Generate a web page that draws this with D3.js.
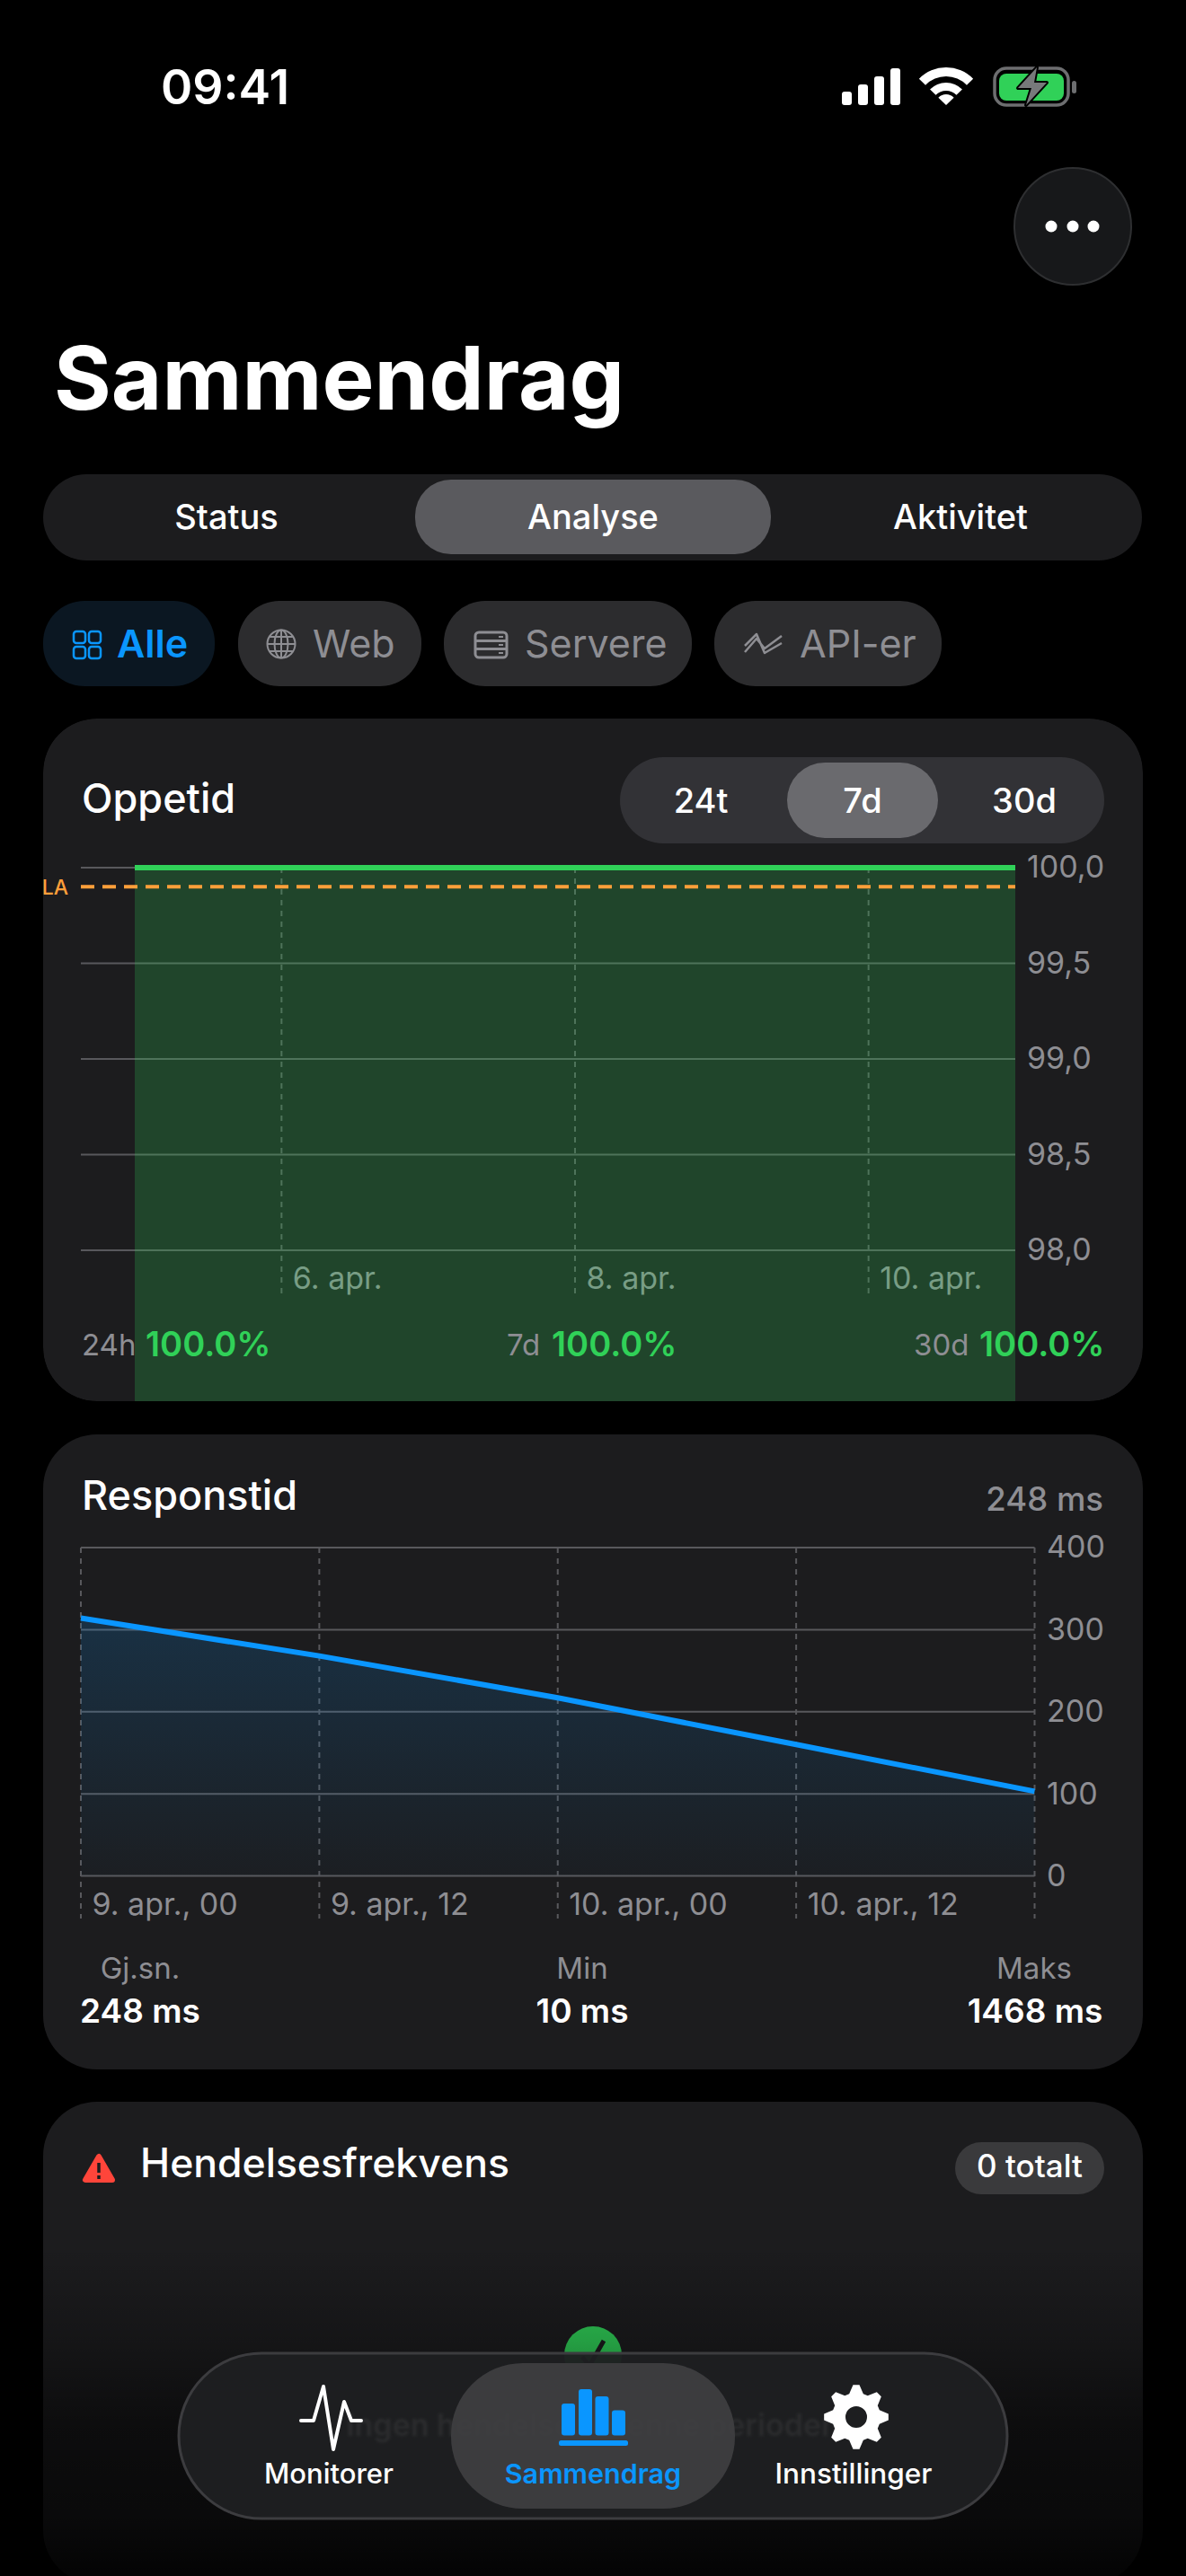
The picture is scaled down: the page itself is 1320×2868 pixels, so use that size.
<!DOCTYPE html>
<html>
<head>
<meta charset="utf-8">
<script src="https://d3js.org/d3.v7.min.js"></script>
<style>
  html, body { margin: 0; background: #000; }
  svg { display: block; }
  text { font-family: Inter, "Noto Sans", sans-serif; }
</style>
</head>
<body>
<svg id="screen" width="1320" height="2868"></svg>
<script>
// uptime chart
var uptimeDays = ["2025-04-05", "2025-04-06", "2025-04-07", "2025-04-08", "2025-04-09", "2025-04-10", "2025-04-11"];
var uptimeValues = [100, 100, 100, 100, 100, 100, 100];
var uptimeTicks = [100, 99.5, 99, 98.5, 98];
var uptimeDayTicks = ["2025-04-06", "2025-04-08", "2025-04-10"];
var uptimeDayLabels = ["6. apr.", "8. apr.", "10. apr."];
var slaTarget = 99.9;
var rangeOptions = ["24t", "7d", "30d"];

// response time chart
var responseTimes = ["2025-04-09T00:00", "2025-04-09T12:00", "2025-04-10T00:00", "2025-04-10T12:00", "2025-04-11T00:00"];
var responseValues = [314, 268, 217, 160, 103];
var responseTicks = [400, 300, 200, 100, 0];
var responseTimeLabels = ["9. apr., 00", "9. apr., 12", "10. apr., 00", "10. apr., 12", ""];

var blue = "#0a96ff", green = "#30d158", grey = "#8e8e93", card = "#1c1c1e", gridCol = "#58585c";
var parseDay = d3.utcParse("%Y-%m-%d"), parseTime = d3.utcParse("%Y-%m-%dT%H:%M");

var svg = d3.select("#screen");
var defs = svg.append("defs");

function label(g, x, y, str, size, fill, weight, anchor) {
  return g.append("text").attr("x", x).attr("y", y).text(str)
    .attr("font-size", size).attr("fill", fill)
    .attr("font-weight", weight || 400).attr("text-anchor", anchor || "start");
}

function box(g, x0, y0, x1, y1, r, fill) {
  return g.append("rect").attr("x", x0).attr("y", y0)
    .attr("width", x1 - x0).attr("height", y1 - y0).attr("rx", r).attr("fill", fill);
}

function drawStatusBar() {
  var g = svg.append("g");
  label(g, 179, 116, "09:41", 53.5, "#fff", 600);
  [[937, 102], [955, 94], [973, 85], [991, 76]].forEach(function(b) {
    box(g, b[0], b[1], b[0] + 11, 117, 3, "#fff");
  });
  [[32, 42], [16, 25], [0, 12]].forEach(function(r) {
    g.append("path").attr("transform", "translate(1053,117)").attr("fill", "#fff")
      .attr("d", d3.arc()({innerRadius: r[0], outerRadius: r[1], startAngle: -0.8, endAngle: 0.8}));
  });
  box(g, 1107, 76, 1189, 117, 13, "none").attr("stroke", "#6d6e70").attr("stroke-width", 3.5);
  box(g, 1112, 82, 1184, 112, 8, green);
  box(g, 1193, 90, 1198, 104, 2.5, "#6d6e70");
  g.append("path").attr("d", "M1154,75L1133,98H1148L1142,117L1165,92H1151Z")
    .attr("fill", "#77797b").attr("stroke", "#000").attr("stroke-width", 4)
    .attr("paint-order", "stroke").attr("stroke-linejoin", "round");

  g.append("circle").attr("cx", 1194).attr("cy", 252).attr("r", 65)
    .attr("fill", "#17181a").attr("stroke", "#2e2f31").attr("stroke-width", 2);
  [1170, 1194, 1217].forEach(function(x) {
    g.append("circle").attr("cx", x).attr("cy", 252).attr("r", 6.5).attr("fill", "#fff");
  });
}

function drawHeader() {
  var g = svg.append("g");
  label(g, 60, 456, "Sammendrag", 97.5, "#fff", 700);

  box(g, 48, 528, 1271, 624, 48, card);
  box(g, 462, 534, 858, 617, 40, "#5a5a5e");
  label(g, 252, 589, "Status", 38, "#fff", 500, "middle");
  label(g, 660, 589, "Analyse", 38, "#fff", 500, "middle");
  label(g, 1069, 589, "Aktivitet", 38, "#fff", 500, "middle");

  box(g, 48, 669, 239, 764, 46, "#0b1722");
  box(g, 265, 669, 469, 764, 46, "#2c2c2e");
  box(g, 494, 669, 770, 764, 46, "#2c2c2e");
  box(g, 795, 669, 1048, 764, 46, "#2c2c2e");
  label(g, 130, 732, "Alle", 43, blue, 600);
  label(g, 348, 732, "Web", 43, grey, 400);
  label(g, 584, 732, "Servere", 43, grey, 400);
  label(g, 890, 732, "API-er", 43, grey, 400);

  // filter chip icons
  [[82, 703], [99, 703], [82, 720], [99, 720]].forEach(function(p) {
    box(g, p[0], p[1], p[0] + 13, p[1] + 13, 3, "none").attr("stroke", blue).attr("stroke-width", 2.5);
  });
  var globe = g.append("g").attr("fill", "none").attr("stroke", grey).attr("stroke-width", 2);
  globe.append("circle").attr("cx", 313).attr("cy", 717).attr("r", 15.5);
  globe.append("ellipse").attr("cx", 313).attr("cy", 717).attr("rx", 7.5).attr("ry", 15.5);
  globe.append("path").attr("d", "M313,701.5V732.5M297.5,717H328.5M300,709H326M300,725H326");
  var server = g.append("g").attr("fill", "none").attr("stroke", grey).attr("stroke-width", 3);
  box(server, 529, 704, 564, 732, 4, "none");
  server.append("path").attr("d", "M529,713.5H564M529,722.5H564");
  server.append("path").attr("d", "M555,709H560M555,718H560M555,727H560").attr("stroke-width", 2);
  g.append("path").attr("d", "M829,726L842,711L851,722L870,708M829,719L842,706L851,727L870,716")
    .attr("fill", "none").attr("stroke", grey).attr("stroke-width", 2.5).attr("stroke-linejoin", "round");
}

function clipToCard(id, x0, y0, x1, y1, r) {
  defs.append("clipPath").attr("id", id).append("rect")
    .attr("x", x0).attr("y", y0).attr("width", x1 - x0).attr("height", y1 - y0).attr("rx", r);
}

function drawUptimeCard() {
  var g = svg.append("g").attr("clip-path", "url(#uptimeClip)");
  clipToCard("uptimeClip", 48, 800, 1272, 1560, 60);
  box(g, 48, 800, 1272, 1560, 60, card);

  label(g, 91, 905, "Oppetid", 45, "#fff", 550);
  box(g, 690, 843, 1229, 939, 48, "#323236");
  box(g, 876, 849, 1044, 933, 42, "#6a6a6e");
  var rangeX = d3.scalePoint().domain(rangeOptions).range([780, 1140]);
  rangeOptions.forEach(function(r) {
    label(g, rangeX(r), 905, r, 38, "#fff", 500, "middle");
  });

  var x = d3.scaleUtc().domain([parseDay(uptimeDays[0]), parseDay(uptimeDays[6])]).range([150, 1130]);
  var y = d3.scaleLinear().domain([98, 100]).range([1392, 966]);
  var dayTicks = uptimeDayTicks.map(parseDay);

  g.selectAll(".grid").data(uptimeTicks).join("line").attr("class", "grid")
    .attr("x1", 90).attr("x2", 1130).attr("y1", y).attr("y2", y)
    .attr("stroke", gridCol).attr("stroke-width", 2);
  g.selectAll(".vgrid").data(dayTicks).join("line").attr("class", "vgrid")
    .attr("x1", x).attr("x2", x).attr("y1", 966).attr("y2", 1440)
    .attr("stroke", gridCol).attr("stroke-width", 2).attr("stroke-dasharray", "6,6");

  var xAxis = d3.axisBottom(x).tickValues(dayTicks).tickSize(0)
    .tickFormat(function(d, i) { return uptimeDayLabels[i]; });
  var xg = g.append("g").attr("transform", "translate(0,1435)").call(xAxis);
  xg.select(".domain").remove();
  xg.selectAll("text").attr("y", 0).attr("dy", 0).attr("dx", 12).attr("text-anchor", "start")
    .attr("font-size", 34).attr("font-family", null).attr("fill", grey);

  var points = uptimeDays.map(function(d, i) { return {t: parseDay(d), v: uptimeValues[i]}; });
  g.append("path").datum(points).attr("fill", green).attr("fill-opacity", 0.23)
    .attr("d", d3.area().x(function(d) { return x(d.t); }).y0(1560).y1(function(d) { return y(d.v); }));
  g.append("path").datum(points).attr("fill", "none").attr("stroke", green).attr("stroke-width", 6)
    .attr("d", d3.line().x(function(d) { return x(d.t); }).y(function(d) { return y(d.v); }));

  g.append("line").attr("x1", 90).attr("x2", 1130).attr("y1", y(slaTarget)).attr("y2", y(slaTarget))
    .attr("stroke", "#ff9f3a").attr("stroke-width", 4).attr("stroke-dasharray", "15,9");
  label(g, 76, 996, "SLA", 23, "#ff9f3a", 500, "end");

  var yAxis = d3.axisRight(y).tickValues(uptimeTicks).tickSize(0).tickPadding(13)
    .tickFormat(function(d) { return d3.format(".1f")(d).replace(".", ","); });
  var yg = g.append("g").attr("transform", "translate(1130,0)").call(yAxis);
  yg.select(".domain").remove();
  yg.selectAll("text").attr("font-size", 34).attr("font-family", null).attr("fill", grey);

  label(g, 91, 1509, "24h", 33, grey);
  label(g, 162, 1510, "100.0%", 38, green, 600);
  label(g, 564, 1509, "7d", 33, grey);
  label(g, 614, 1510, "100.0%", 38, green, 600);
  label(g, 1017, 1509, "30d", 33, grey);
  label(g, 1090, 1510, "100.0%", 38, green, 600);
}

function drawResponseCard() {
  var g = svg.append("g");
  box(g, 48, 1597, 1272, 2304, 60, card);
  label(g, 91, 1681, "Responstid", 45, "#fff", 550);
  label(g, 1228, 1682, "248 ms", 36.5, grey, 500, "end");

  var times = responseTimes.map(parseTime);
  var x = d3.scaleUtc().domain([times[0], times[4]]).range([90, 1151.5]);
  var y = d3.scaleLinear().domain([0, 400]).range([2088.5, 1723]);

  g.selectAll(".grid").data(responseTicks).join("line").attr("class", "grid")
    .attr("x1", 90).attr("x2", 1151.5).attr("y1", y).attr("y2", y)
    .attr("stroke", gridCol).attr("stroke-width", 2);
  g.selectAll(".vgrid").data(times).join("line").attr("class", "vgrid")
    .attr("x1", x).attr("x2", x).attr("y1", 1723).attr("y2", 2136)
    .attr("stroke", gridCol).attr("stroke-width", 2).attr("stroke-dasharray", "6,6");

  var fill = defs.append("linearGradient").attr("id", "responseFill")
    .attr("x1", 0).attr("x2", 0).attr("y1", 0).attr("y2", 1);
  fill.append("stop").attr("offset", 0).attr("stop-color", blue).attr("stop-opacity", 0.17);
  fill.append("stop").attr("offset", 1).attr("stop-color", blue).attr("stop-opacity", 0.02);

  var points = times.map(function(t, i) { return {t: t, v: responseValues[i]}; });
  g.append("path").datum(points).attr("fill", "url(#responseFill)")
    .attr("d", d3.area().x(function(d) { return x(d.t); }).y0(y(0)).y1(function(d) { return y(d.v); }));
  g.append("path").datum(points).attr("fill", "none").attr("stroke", blue).attr("stroke-width", 6)
    .attr("d", d3.line().x(function(d) { return x(d.t); }).y(function(d) { return y(d.v); }));

  var xAxis = d3.axisBottom(x).tickValues(times).tickSize(0)
    .tickFormat(function(d, i) { return responseTimeLabels[i]; });
  var xg = g.append("g").attr("transform", "translate(0,2132)").call(xAxis);
  xg.select(".domain").remove();
  xg.selectAll("text").attr("y", 0).attr("dy", 0).attr("dx", 12).attr("text-anchor", "start")
    .attr("font-size", 34).attr("font-family", null).attr("fill", grey);

  var yAxis = d3.axisRight(y).tickValues(responseTicks).tickSize(0).tickPadding(13.5);
  var yg = g.append("g").attr("transform", "translate(1151.5,0)").call(yAxis);
  yg.select(".domain").remove();
  yg.selectAll("text").attr("font-size", 34).attr("font-family", null).attr("fill", grey);

  label(g, 156, 2203, "Gj.sn.", 33, grey, 400, "middle");
  label(g, 156, 2252, "248 ms", 37, "#fff", 600, "middle");
  label(g, 648, 2203, "Min", 33, grey, 400, "middle");
  label(g, 648, 2252, "10 ms", 37, "#fff", 600, "middle");
  label(g, 1151, 2203, "Maks", 33, grey, 400, "middle");
  label(g, 1152, 2252, "1468 ms", 37, "#fff", 600, "middle");
}

function drawIncidentCard() {
  var g = svg.append("g");
  box(g, 48, 2340, 1272, 2877, 60, card);
  g.append("path").attr("d", "M110,2401L95,2427H125Z").attr("fill", "#ff453a")
    .attr("stroke", "#ff453a").attr("stroke-width", 6).attr("stroke-linejoin", "round");
  g.append("path").attr("d", "M110,2408V2419M110,2422V2426").attr("stroke", card).attr("stroke-width", 3.5);
  label(g, 156, 2424, "Hendelsesfrekvens", 44.5, "#fff", 500);
  box(g, 1063, 2385, 1229, 2443, 29, "#3a3a3c");
  label(g, 1146, 2424, "0 totalt", 35, "#fff", 500, "middle");

  g.append("circle").attr("cx", 660).attr("cy", 2622).attr("r", 32).attr("fill", green);
  g.append("path").attr("d", "M648,2624L656,2634L672,2606").attr("fill", "none")
    .attr("stroke", card).attr("stroke-width", 5);

  // fade to black behind the tab bar
  var fade = defs.append("linearGradient").attr("id", "fade")
    .attr("x1", 0).attr("x2", 0).attr("y1", 0).attr("y2", 1);
  [[0, 0], [0.29, 0.25], [0.53, 0.55], [0.8, 0.65], [1, 0.9]].forEach(function(s) {
    fade.append("stop").attr("offset", s[0]).attr("stop-color", "#000").attr("stop-opacity", s[1]);
  });
  box(g, 0, 2500, 1320, 2877, 0, "url(#fade)");
}

function drawTabBar() {
  var g = svg.append("g");
  box(g, 199, 2620, 1121, 2804, 92, "#1e1f21").attr("fill-opacity", 0.96)
    .attr("stroke", "#3c3c3f").attr("stroke-width", 3);

  // message under the glass shows through as a smear
  defs.append("filter").attr("id", "soft").append("feGaussianBlur").attr("stdDeviation", 1.5);
  label(g, 660, 2712, "Ingen hendelser i denne perioden", 34, "#fff", 600, "middle")
    .attr("fill-opacity", 0.06).attr("filter", "url(#soft)");

  box(g, 502, 2631, 818, 2793, 80, "#3e3e40").attr("fill-opacity", 0.95);

  g.append("path").attr("d", "M335,2695H349L360,2657L371,2727L383,2674L391,2695H402")
    .attr("fill", "none").attr("stroke", "#fff").attr("stroke-width", 4)
    .attr("stroke-linejoin", "round").attr("stroke-linecap", "round");

  [[625, 2676], [644, 2660], [662.5, 2668], [681, 2683.5]].forEach(function(b) {
    box(g, b[0], b[1], b[0] + 15, 2711.5, 3, blue);
  });
  box(g, 622, 2717, 699, 2723, 2.5, blue);

  // gear
  var teeth = d3.range(8 * 4).map(function(i) {
    var a = (i - 0.5) * Math.PI / 16;
    return [a, [36, 36, 27, 27][i % 4]];
  });
  var gear = d3.lineRadial().curve(d3.curveLinearClosed)(teeth);
  g.append("path").attr("transform", "translate(953,2691)").attr("fill", "#fff").attr("fill-rule", "evenodd")
    .attr("d", gear + "M12,0A12,12 0 1,1 -12,0A12,12 0 1,1 12,0Z");

  label(g, 366, 2765, "Monitorer", 31, "#fff", 500, "middle");
  label(g, 660, 2765, "Sammendrag", 30.5, blue, 600, "middle");
  label(g, 950, 2765, "Innstillinger", 31.5, "#fff", 500, "middle");
}

drawStatusBar();
drawHeader();
drawUptimeCard();
drawResponseCard();
drawIncidentCard();
drawTabBar();
</script>
</body>
</html>
